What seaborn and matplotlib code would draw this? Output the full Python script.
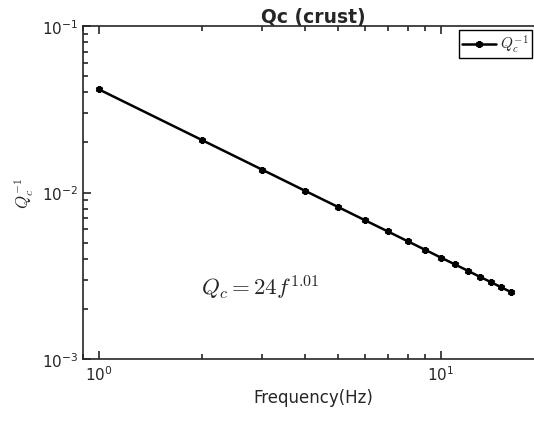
import matplotlib
matplotlib.use("Agg")
import matplotlib.pyplot as plt
import seaborn as sns
import pandas as pd
from matplotlib.ticker import LogLocator, NullFormatter

freq = [1, 2, 3, 4, 5, 6, 7, 8, 9, 10, 11, 12, 13, 14, 15, 16]
qc_inv = [0.0417, 0.0207, 0.01374, 0.01027, 0.0082, 0.00682, 0.00584, 0.0051,
          0.00453, 0.00407, 0.0037, 0.00339, 0.00312, 0.0029, 0.0027, 0.00253]
title = "Qc (crust)"
xlabel = "Frequency(Hz)"
ylabel = r"$Q_c^{-1}$"
annot = r"$Q_c = 24f^{1.01}$"

sns.set_style("white")
plt.rcParams.update({
    "font.family": ["DejaVu Sans"],
    "mathtext.fontset": "cm",
    "xtick.bottom": True, "xtick.top": True,
    "ytick.left": True, "ytick.right": True,
    "xtick.direction": "in", "ytick.direction": "in",
    "xtick.major.size": 6, "ytick.major.size": 6,
    "xtick.minor.size": 3.5, "ytick.minor.size": 3.5,
    "xtick.major.width": 1.2, "ytick.major.width": 1.2,
    "xtick.minor.width": 1.2, "ytick.minor.width": 1.2,
    "xtick.color": "#262626", "ytick.color": "#262626",
    "xtick.labelsize": 11, "ytick.labelsize": 11,
    "xtick.minor.visible": True, "ytick.minor.visible": True,
})

df = pd.DataFrame({"f": freq, "q": qc_inv})

fig = plt.figure(figsize=(5.34, 4.27), dpi=100)
ax = fig.add_axes([83/534, 1-360/427, 460.7/534, 333/427])
ax.set_xscale("log")
ax.set_yscale("log")
sns.lineplot(data=df, x="f", y="q", ax=ax, color="black", linewidth=1.8,
             marker=(6, 2, 0), markersize=5, markeredgewidth=1.8,
             markeredgecolor="black", label=ylabel)
ax.set_xlim(0.9, 20)
ax.set_ylim(1e-3, 1e-1)
for axis in (ax.xaxis, ax.yaxis):
    axis.set_minor_locator(LogLocator(base=10, subs=range(2, 10), numticks=20))
    axis.set_minor_formatter(NullFormatter())

for s in ax.spines.values():
    s.set_color("#262626")
    s.set_linewidth(1.2)
ax.set_xlabel(xlabel, fontsize=12, color="#262626")
ax.set_ylabel(ylabel, fontsize=12, color="#262626")
ax.set_title(title, fontsize=13.5, fontweight="bold", pad=3)

ax.text(1.99, 0.0027, annot, fontsize=16.5, va="center", ha="left")

leg = ax.legend(loc="upper right", bbox_to_anchor=(532/534, 1-31/427),
                bbox_transform=fig.transFigure, borderaxespad=0,
                fancybox=False, framealpha=1, edgecolor="black",
                fontsize=11, handlelength=2.2, borderpad=0.2, handletextpad=0.3)
leg.get_frame().set_linewidth(1.0)

fig.savefig("out.png", dpi=100)
